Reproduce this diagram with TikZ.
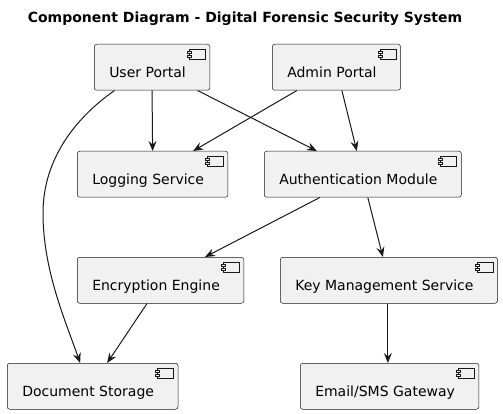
\documentclass[tikz,border=0pt]{standalone}
\usepackage{fontspec}
\setmainfont{DejaVu Sans}
\usetikzlibrary{arrows.meta}
\definecolor{compfill}{HTML}{F1F1F1}
\definecolor{compline}{HTML}{181818}

\begin{document}
\begin{tikzpicture}[x=1pt, y=-1pt,
    comp/.style={draw=compline, line width=0.5pt, fill=compfill,
        rounded corners=2.5pt, anchor=north west,
        inner xsep=15pt, inner ysep=0pt, minimum height=46pt,
        text height=20pt, text depth=0pt,
        font=\fontsize{14}{16}\selectfont,
        execute at end node={\hspace*{9pt}}},
    icon/.style={draw=compline, line width=0.5pt, fill=compfill},
    conn/.style={draw=compline, line width=1pt,
        -{Stealth[length=10pt, width=8pt, inset=3.5pt]}}]
    \useasboundingbox (0,0) rectangle (503,414);

    \node[font=\bfseries\fontsize{14}{16}\selectfont, anchor=base] (title) at (245,23)
        {Component Diagram - Digital Forensic Security System};

    \node[comp] (user) at (94,44) {User Portal};
    \node[comp] (admin) at (272,44) {Admin Portal};
    \node[comp] (logging) at (77,151) {Logging Service};
    \node[comp] (auth) at (264,151) {Authentication Module};
    \node[comp] (crypt) at (77,257) {Encryption Engine};
    \node[comp] (keys) at (280,257) {Key Management Service};
    \node[comp] (docs) at (7,363) {Document Storage};
    \node[comp] (gateway) at (300,363) {Email/SMS Gateway};

    % component icons
    \foreach \n in {user,admin,logging,auth,crypt,keys,docs,gateway} {
        \draw[icon] ([xshift=-21pt,yshift=-5pt]\n.north east) rectangle ([xshift=-5pt,yshift=-15pt]\n.north east);
        \draw[icon] ([xshift=-23pt,yshift=-7pt]\n.north east) rectangle ([xshift=-19pt,yshift=-9pt]\n.north east);
        \draw[icon] ([xshift=-23pt,yshift=-11pt]\n.north east) rectangle ([xshift=-19pt,yshift=-13pt]\n.north east);
    }

    \coordinate (bend) at (43,213);

    \draw[conn] (user.south) -- (logging.north);
    \draw[conn] ([xshift=45.5pt]user.south) -- ([xshift=-46pt]auth.north);
    \draw[conn] ([xshift=-37.5pt]user.south) .. controls +(-40,28) and +(0,-53) .. (bend)
        .. controls +(0,57) and +(-15,-43) .. ([xshift=-12.5pt]docs.north);
    \draw[conn] ([xshift=-39.5pt]admin.south) -- ([xshift=40.5pt]logging.north);
    \draw[conn] ([xshift=5.5pt]admin.south) -- ([xshift=-6pt]auth.north);
    \draw[conn] ([xshift=-43pt]auth.south) -- ([xshift=44.5pt]crypt.north);
    \draw[conn] ([xshift=5pt]auth.south) -- ([xshift=-6pt]keys.north);
    \draw[conn] ([xshift=-13.5pt]crypt.south) -- ([xshift=14.5pt]docs.north);
    \draw[conn] ([xshift=-1pt]keys.south) -- ([xshift=-1pt]keys.south |- gateway.north);
\end{tikzpicture}
\end{document}
